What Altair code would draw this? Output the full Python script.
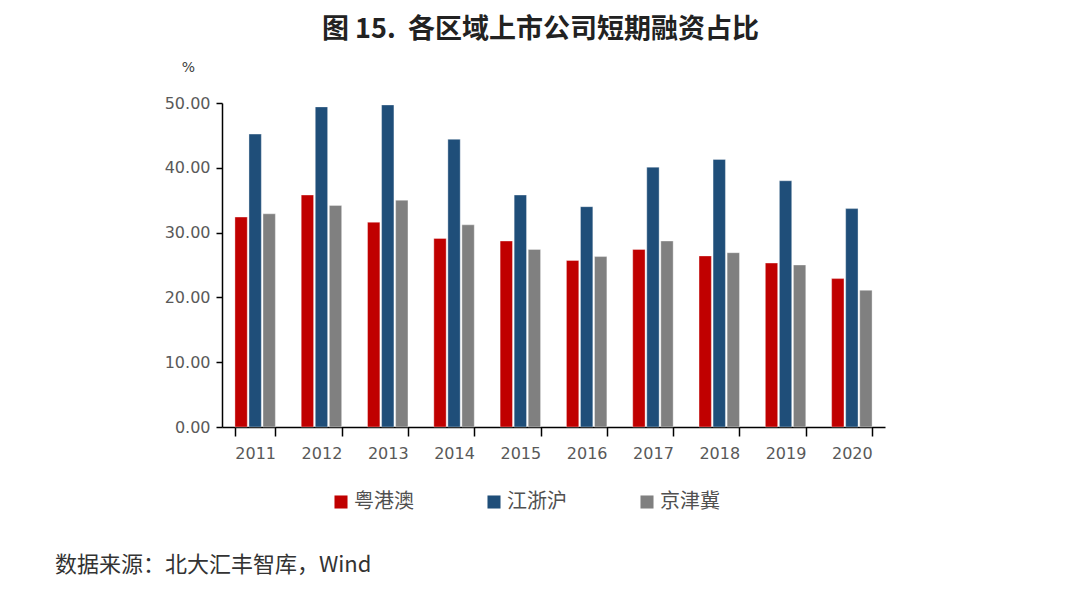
import altair as alt
import pandas as pd

years = ["2011", "2012", "2013", "2014", "2015", "2016", "2017", "2018", "2019", "2020"]
series_names = ["粤港澳", "江浙沪", "京津冀"]
gba = [32.4, 35.8, 31.6, 29.1, 28.7, 25.7, 27.4, 26.4, 25.3, 22.9]
yrd = [45.2, 49.4, 49.7, 44.4, 35.8, 34.0, 40.1, 41.3, 38.0, 33.7]
bth = [32.9, 34.2, 35.0, 31.2, 27.4, 26.3, 28.7, 26.9, 25.0, 21.1]
colors = ["#C00000", "#1F4E79", "#808080"]
y_ticks = [0, 10, 20, 30, 40, 50]
title_text = "图 15.\u00a0\u00a0各区域上市公司短期融资占比"
source_text = "数据来源：北大汇丰智库，Wind"

rows = []
for name, vals in zip(series_names, [gba, yrd, bth]):
    for y, v in zip(years, vals):
        rows.append({"year": y, "region": name, "value": v})
df = pd.DataFrame(rows)

num_font = "DejaVu Sans"
cjk_font = "Noto Sans CJK SC"

bars = alt.Chart(df).mark_bar(stroke="#ffffff", strokeWidth=0.6, strokeOpacity=0.6).encode(
    x=alt.X("year:N", sort=years, title=None,
            scale=alt.Scale(paddingInner=0.39, paddingOuter=0.195),
            axis=alt.Axis(labelAngle=0, tickBand="extent", domainColor="#000000",
                          tickColor="#000000", tickSize=9, domainWidth=1.5, tickWidth=1.5,
                          labelFont=num_font, labelFontSize=16, labelColor="#595959",
                          labelPadding=9, grid=False)),
    xOffset=alt.XOffset("region:N", sort=series_names, scale=alt.Scale(paddingInner=0.12)),
    y=alt.Y("value:Q", title="%",
            scale=alt.Scale(domain=[0, 50], nice=False),
            axis=alt.Axis(values=y_ticks, format=".2f", grid=False,
                          domainColor="#000000", tickColor="#000000", tickSize=6,
                          domainWidth=1.5, tickWidth=1.5,
                          labelFont=num_font, labelFontSize=16, labelColor="#595959",
                          labelPadding=6,
                          titleAngle=0, titleX=-34, titleY=-36, titleAlign="center",
                          titleBaseline="middle", titleFont=num_font, titleFontSize=14,
                          titleFontWeight="normal", titleColor="#404040")),
    color=alt.Color("region:N", sort=series_names, title=None,
                    scale=alt.Scale(domain=series_names, range=colors),
                    legend=alt.Legend(orient="none", legendX=109, legendY=389,
                                      direction="horizontal", columns=3, columnPadding=70,
                                      symbolType="square", symbolSize=170,
                                      symbolStrokeWidth=0, labelOffset=3,
                                      labelFont=cjk_font, labelFontSize=20,
                                      labelColor="#505050")),
)

src = alt.Chart(pd.DataFrame({"t": [source_text]})).mark_text(
    align="left", baseline="middle", font=cjk_font, fontSize=22, color="#333333"
).encode(x=alt.value(-167), y=alt.value(462), text="t:N")

chart = alt.layer(bars, src).properties(
    width=663, height=324,
    title=alt.TitleParams(title_text, font=cjk_font, fontSize=27, fontWeight=600,
                          color="#222222", anchor="middle", dx=-13, offset=16),
    autosize=alt.AutoSizeParams(type="none"),
    padding={"left": 214, "top": 95, "right": 187, "bottom": 159},
).configure_view(stroke=None)

chart.save("out.html", embed_options={"renderer": "svg", "actions": False})
